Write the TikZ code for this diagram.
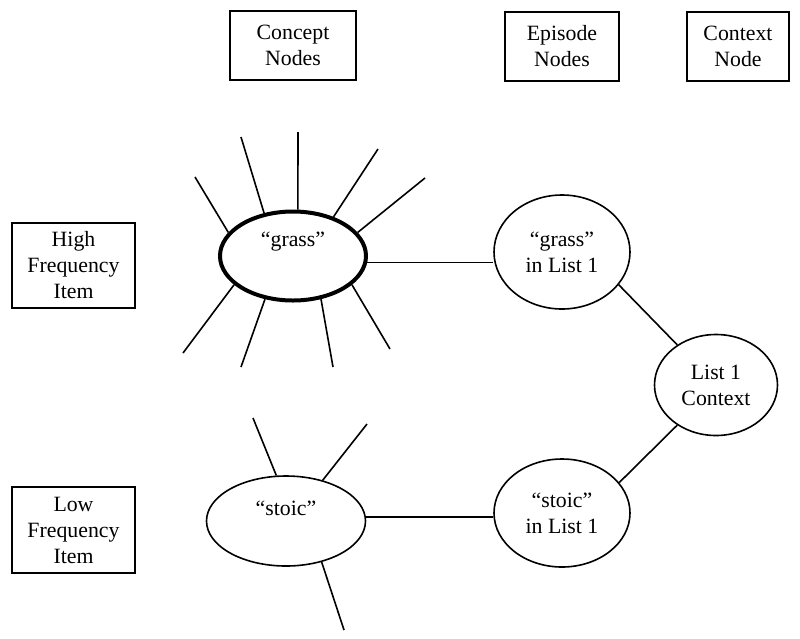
\documentclass[tikz,border=0pt]{standalone}
\usepackage{fontspec}
\setmainfont{Liberation Serif}
\usepackage{tikz}
\usetikzlibrary{shapes.geometric, positioning}
\newcommand{\diagfont}{\fontsize{21.8}{26}\selectfont}
\tikzset{
  header/.style={
      draw,
      rectangle,
      line width=1.6pt,
      minimum height=69pt,
      inner sep=0pt,
      align=center,
      font=\diagfont
  },
  itembox/.style={
      header,
      minimum width=123pt,
      minimum height=85pt
  },
  concept/.style={
      draw,
      ellipse,
      line width=1.6pt,
      inner sep=0pt
  },
  episode/.style={
      draw,
      ellipse,
      line width=1.6pt,
      inner sep=0pt,
      align=center,
      font=\diagfont
  },
  spoke/.style={line width=1.6pt},
  link/.style={line width=1.6pt}
}

\begin{document}
\begin{tikzpicture}[x=1pt, y=-1pt]
      \useasboundingbox (0,0) rectangle (800,638);
      % Column and row headings
      \node (concepthd) [header, minimum width=126pt] at (293,45.5) {Concept\\Nodes};
      \node (episodehd) [header, minimum width=114pt] at (562,46.5) {Episode\\Nodes};
      \node (contexthd) [header, minimum width=102pt] at (738,46.5) {Context\\Node};
      \node (highitem) [itembox] at (73.5,265.5) {High\\Frequency\\Item};
      \node (lowitem) [itembox, minimum height=86pt] at (73.5,530) {Low\\Frequency\\Item};

      % Concept nodes
      \node (grass) [concept, line width=4pt, minimum width=146pt, minimum height=89pt,
        label={[font=\diagfont, yshift=14pt]center:“grass”}] at (293,256) {};
      \node (stoic) [concept, minimum width=159pt, minimum height=90pt,
        label={[font=\diagfont, yshift=13pt]center:“stoic”}] at (286,521) {};

      % Episode and context nodes
      \node (grassep) [episode, minimum width=136pt, minimum height=114pt] at (562,252) {“grass”\\in List 1};
      \node (stoicep) [episode, minimum width=136pt, minimum height=108pt] at (562,513) {“stoic”\\in List 1};
      \node (context) [episode, minimum width=123pt, minimum height=101pt] at (716,385) {List 1\\Context};

      % Spokes
      \foreach \a/\x/\y in {160/195/177, 124/241/137, 84/298/132, 44/378/149, 20/425/178,
                            206/183/353, 237/241/367, 303/333/367, 334/390/349}
        \draw[spoke] (grass.\a) -- (\x,\y);
      \foreach \a/\x/\y in {102/253/418, 48/367/424, 311/344/630}
        \draw[spoke] (stoic.\a) -- (\x,\y);

      % Connections
      \draw[link] (grass.-5) -- (grass.-5 -| grassep.west);
      \draw[link] (stoic.3) -- (stoic.3 -| stoicep.west);
      \draw[link] (grassep.330) -- (context.134);
      \draw[link] (context.226) -- (stoicep.28);
\end{tikzpicture}
\end{document}
